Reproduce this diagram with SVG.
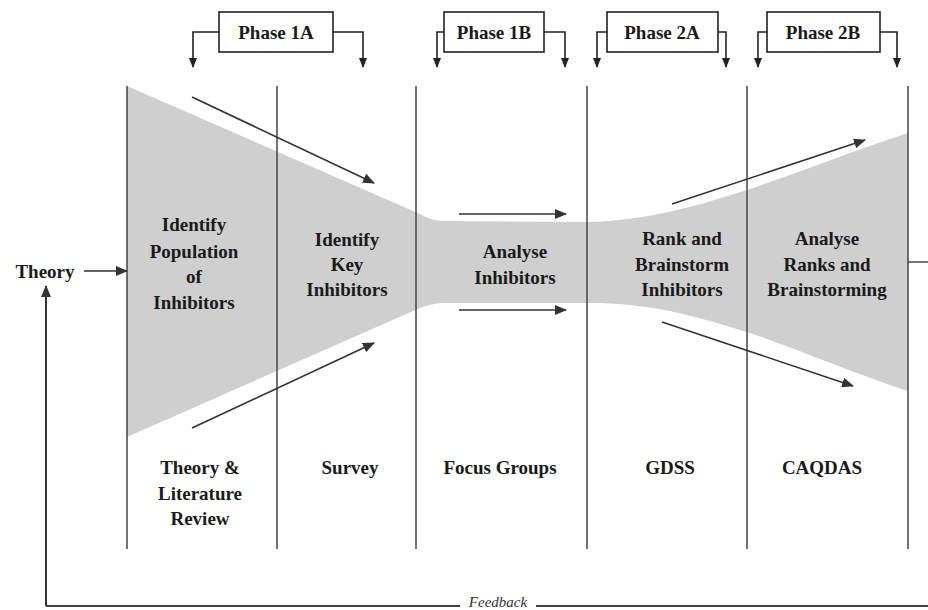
<svg xmlns="http://www.w3.org/2000/svg" width="928" height="610" viewBox="0 0 928 610">
<style>
.lbl{font-family:"Liberation Serif","Times New Roman",serif;font-weight:bold;font-size:19px;fill:#1a1a1a;text-anchor:middle}
.ph{font-family:"Liberation Serif","Times New Roman",serif;font-weight:bold;font-size:19px;fill:#1a1a1a;text-anchor:middle}
.fb{font-family:"Liberation Serif","Times New Roman",serif;font-style:italic;font-size:15px;fill:#333;text-anchor:middle}
.div{stroke:#444;stroke-width:1.5;fill:none}
.arr{stroke:#333;stroke-width:1.6;fill:none;marker-end:url(#ah)}
.br{stroke:#222;stroke-width:1.6;fill:none;marker-end:url(#ahs)}
.box{fill:#fff;stroke:#222;stroke-width:1.6}
</style>
<defs>
<marker id="ah" viewBox="0 0 12 10" refX="11" refY="5" markerWidth="12" markerHeight="10" markerUnits="userSpaceOnUse" orient="auto">
<path d="M0,0 L12,5 L0,10 Z" fill="#333"/>
</marker>
<marker id="ahs" viewBox="0 0 10 8" refX="9" refY="4" markerWidth="10" markerHeight="8" markerUnits="userSpaceOnUse" orient="auto">
<path d="M0,0 L10,4 L0,8 Z" fill="#222"/>
</marker>
</defs>
<rect width="928" height="610" fill="#fff"/>
<g id="funnel">
<path d="M127,86 L420,214 Q430,220 442,221 L590,222 C650,220 700,205 747,190 C800,172 850,152 908,133 L908,391 C850,372 800,350 747,332 C700,318 660,305 600,303 L442,303 Q430,304 420,308 L127,437 Z" fill="#cfcfcf"/>
</g>
<g id="dividers">
<line class="div" x1="127" y1="86" x2="127" y2="549"/>
<line class="div" x1="277" y1="86" x2="277" y2="549"/>
<line class="div" x1="416" y1="86" x2="416" y2="549"/>
<line class="div" x1="587" y1="86" x2="587" y2="549"/>
<line class="div" x1="747" y1="86" x2="747" y2="549"/>
<line class="div" x1="908" y1="86" x2="908" y2="549"/>
</g>
<g id="phase1A">
<rect class="box" x="219" y="12" width="114" height="40"/>
<text class="ph" x="276" y="39">Phase 1A</text>
</g>
<g id="phase1B">
<rect class="box" x="444" y="12" width="100" height="40"/>
<text class="ph" x="494" y="39">Phase 1B</text>
</g>
<g id="phase2A">
<rect class="box" x="607" y="12" width="111" height="40"/>
<text class="ph" x="662" y="39">Phase 2A</text>
</g>
<g id="phase2B">
<rect class="box" x="767" y="12" width="113" height="40"/>
<text class="ph" x="823" y="39">Phase 2B</text>
</g>
<g id="theory">
<text class="lbl" x="45" y="278">Theory</text>
</g>
<g id="identify-population">
<text class="lbl" x="194" y="231">Identify</text>
<text class="lbl" x="194" y="258">Population</text>
<text class="lbl" x="194" y="283">of</text>
<text class="lbl" x="194" y="309">Inhibitors</text>
</g>
<g id="identify-key">
<text class="lbl" x="347" y="246">Identify</text>
<text class="lbl" x="347" y="271">Key</text>
<text class="lbl" x="347" y="296">Inhibitors</text>
</g>
<g id="analyse-inhibitors">
<text class="lbl" x="515" y="258">Analyse</text>
<text class="lbl" x="515" y="284">Inhibitors</text>
</g>
<g id="rank-brainstorm">
<text class="lbl" x="682" y="245">Rank and</text>
<text class="lbl" x="682" y="271">Brainstorm</text>
<text class="lbl" x="682" y="296">Inhibitors</text>
</g>
<g id="analyse-ranks">
<text class="lbl" x="827" y="245">Analyse</text>
<text class="lbl" x="827" y="271">Ranks and</text>
<text class="lbl" x="827" y="296">Brainstorming</text>
</g>
<g id="tool-literature">
<text class="lbl" x="200" y="474">Theory &amp;</text>
<text class="lbl" x="200" y="500">Literature</text>
<text class="lbl" x="200" y="525">Review</text>
</g>
<g id="tool-survey"><text class="lbl" x="350" y="474">Survey</text></g>
<g id="tool-focus"><text class="lbl" x="500" y="474">Focus Groups</text></g>
<g id="tool-gdss"><text class="lbl" x="670" y="474">GDSS</text></g>
<g id="tool-caqdas"><text class="lbl" x="822" y="474">CAQDAS</text></g>
<g id="feedback-label">
<text class="fb" x="498" y="607">Feedback</text>
</g>
<g id="connectors">
<path class="br" d="M219,32 H193 V67"/>
<path class="br" d="M333,32 H363 V67"/>
<path class="br" d="M444,32 H437 V67"/>
<path class="br" d="M544,32 H565 V67"/>
<path class="br" d="M607,32 H597 V67"/>
<path class="br" d="M718,32 H726 V67"/>
<path class="br" d="M767,32 H758 V67"/>
<path class="br" d="M880,32 H897 V67"/>
<line class="arr" x1="192" y1="97" x2="374" y2="183"/>
<line class="arr" x1="192" y1="428" x2="374" y2="343"/>
<line class="arr" x1="459" y1="214" x2="566" y2="214"/>
<line class="arr" x1="459" y1="310" x2="566" y2="310"/>
<line class="arr" x1="672" y1="204" x2="865" y2="140"/>
<line class="arr" x1="662" y1="322" x2="853" y2="386"/>
<line class="arr" x1="84" y1="271" x2="127" y2="271"/>
<line class="div" x1="908" y1="262" x2="928" y2="262"/>
<line class="div" x1="928" y1="606" x2="536" y2="606" style="stroke-width:2"/>
<line class="div" x1="460" y1="606" x2="46" y2="606" style="stroke-width:2"/>
<line class="arr" x1="46" y1="606" x2="46" y2="286" style="stroke-width:2"/>
</g>
</svg>
